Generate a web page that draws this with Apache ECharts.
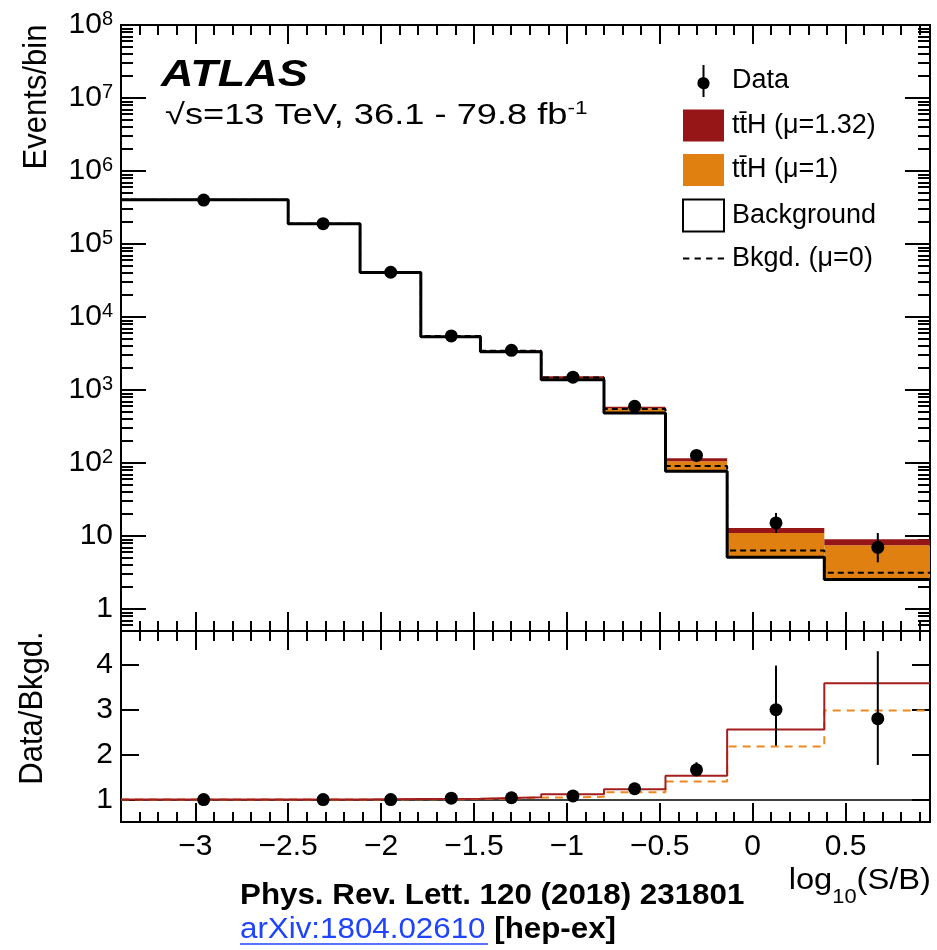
<!DOCTYPE html>
<html><head><meta charset="utf-8">
<script src="https://cdn.jsdelivr.net/npm/echarts@6/dist/echarts.min.js"></script>
<style>html,body{margin:0;padding:0;background:#fff}#c{width:937px;height:950px}</style>
</head><body><div id="c"></div>
<script>
// ---------------- data ----------------
const binEdges = [-3.4, -2.5, -2.113, -1.786, -1.465, -1.138, -0.80, -0.469, -0.137, 0.386, 0.955];
const bkgdFit   = [4.03e5, 1.89e5, 4.07e4, 5.37e3, 3.33e3, 1.38e3, 485, 76.9, 5.12, 2.53];   // Background (black)
const ttHmu1Top = [4.04e5, 1.895e5, 4.09e4, 5.42e3, 3.44e3, 1.46e3, 562, 106, 11.0, 7.47];  // Background + ttH (mu=1)
const ttHmu132Top = [4.05e5, 1.90e5, 4.11e4, 5.48e3, 3.50e3, 1.54e3, 588, 116, 12.9, 9.0];  // Background + ttH (mu=1.32)
const bkgdMu0   = [4.05e5, 1.90e5, 4.1e4, 5.5e3, 3.45e3, 1.48e3, 551, 91, 6.32, 3.13];     // Bkgd. (mu=0), dashed
const dataX     = [-2.955, -2.312, -1.948, -1.622, -1.298, -0.967, -0.635, -0.302, 0.126, 0.674];
const dataY     = [4.0e5, 1.9e5, 4.1e4, 5.5e3, 3.5e3, 1.5e3, 597, 127, 15.1, 7.0];
const dataLo    = [3.994e5, 1.896e5, 4.08e4, 5.43e3, 3.44e3, 1.46e3, 573, 116, 11.0, 4.37];
const dataHi    = [4.006e5, 1.904e5, 4.12e4, 5.57e3, 3.56e3, 1.54e3, 621, 138, 20.7, 11.0];
const ratioData = [1.0, 1.0, 1.0, 1.03, 1.04, 1.08, 1.24, 1.66, 3.0, 2.8];
const ratioLo   = [0.998, 0.998, 0.995, 1.01, 1.01, 1.05, 1.19, 1.52, 2.2, 1.77];
const ratioHi   = [1.002, 1.002, 1.005, 1.05, 1.07, 1.11, 1.29, 1.83, 3.98, 4.3];
const ratioMu132 = [1.0, 1.0, 1.01, 1.02, 1.05, 1.12, 1.23, 1.53, 2.56, 3.59];
const ratioMu1   = [1.0, 1.0, 1.005, 1.01, 1.04, 1.06, 1.16, 1.40, 2.18, 2.98];
// ---------------- axes / ticks ----------------
const xMin = -3.4, xMax = 0.955;
const xMajorTicks = [-3, -2.5, -2, -1.5, -1, -0.5, 0, 0.5];
const xMinorTicks = [];
for (let k = -34; k <= 9; k++) { const v = k / 10; if (Math.abs(v * 2 - Math.round(v * 2)) > 1e-6) xMinorTicks.push(+v.toFixed(2)); }
const yMin = 0.5, yMax = 1e8;
const logDecades = [0, 1, 2, 3, 4, 5, 6, 7, 8];
const logMinor = [];
for (let n = -1; n <= 7; n++) for (let k = 2; k <= 9; k++) { const v = k * Math.pow(10, n); if (v >= yMin && v <= yMax) logMinor.push(Math.log10(v)); }
const ratioMin = 0.5, ratioMax = 4.75;
const ratioTicks = [1, 2, 3, 4];

const FONT = '"Liberation Sans", Arial, Helvetica, sans-serif';
const RED = '#961517', ORANGE = '#e08011';
const RED_LINE = '#a41e1e', ORANGE_LINE = '#ec8a1f';

function stepData(vals) {
  const pts = vals.map((v, i) => [binEdges[i], v]);
  pts.push([binEdges[vals.length], vals[vals.length - 1]]);
  return pts;
}
function bandData(lo, hi) { return lo.map((v, i) => [binEdges[i], binEdges[i + 1], v, hi[i]]); }
function bandRender(color) {
  return function (params, api) {
    const p0 = api.coord([api.value(0), api.value(3)]);
    const p1 = api.coord([api.value(1), api.value(2)]);
    return { type: 'rect', shape: { x: p0[0], y: p0[1], width: p1[0] - p0[0], height: p1[1] - p0[1] }, style: { fill: color } };
  };
}
function errRender(params, api) {
  const a = api.coord([api.value(0), api.value(1)]);
  const b = api.coord([api.value(0), api.value(2)]);
  return { type: 'line', shape: { x1: a[0], y1: a[1], x2: b[0], y2: b[1] }, style: { stroke: '#000', lineWidth: 2 } };
}
function tickAxis(grid, pos, min, max, vals, len, label) {
  return {
    type: 'value', gridIndex: grid, position: pos, min: min, max: max,
    axisLine: { show: false, onZero: false }, splitLine: { show: false },
    axisTick: { show: true, inside: true, length: len, customValues: vals, lineStyle: { color: '#000', width: 2 } },
    axisLabel: label ? label : { show: false }
  };
}
const xLabel = {
  show: true, customValues: xMajorTicks, fontSize: 30, fontFamily: FONT, color: '#000', margin: 10,
  formatter: v => (v < 0 ? '\u2212' + String(Math.abs(v)) : String(v))
};
const yLogLabel = {
  show: true, customValues: logDecades, fontFamily: FONT, color: '#000', margin: 8, fontSize: 30,
  formatter: v => { const n = Math.round(v); if (n === 0) return '{b|1}'; if (n === 1) return '{b|10}'; return '{b|10}{s|' + n + '}'; },
  rich: { b: { fontSize: 30, lineHeight: 32, fontFamily: FONT, color: '#000' }, s: { fontSize: 20, lineHeight: 20, verticalAlign: 'top', fontFamily: FONT, color: '#000' } }
};
const yRatioLabel = { show: true, customValues: ratioTicks, fontSize: 30, fontFamily: FONT, color: '#000', margin: 8 };

const chart = echarts.init(document.getElementById('c'), null, { renderer: 'canvas', devicePixelRatio: 1 });
const dataIcon = 'path://M5.125 0H6.875V10.81A5.25 5.25 0 0 1 6.875 21.19V28H5.125V21.19A5.25 5.25 0 0 1 5.125 10.81Z';
const dashIcon = 'path://M0 0H6V2H0Z M11 0H17V2H11Z M22 0H28V2H22Z M33 0H39V2H33Z';
const option = {
  animation: false,
  backgroundColor: '#fff',
  grid: [
    { left: 121, right: 7, top: 25, height: 606, show: true, borderColor: '#000', borderWidth: 2, backgroundColor: 'transparent' },
    { left: 121, right: 7, top: 631, height: 191, show: true, borderColor: '#000', borderWidth: 2, backgroundColor: 'transparent' }
  ],
  xAxis: [
    tickAxis(0, 'bottom', xMin, xMax, xMajorTicks, 19),
    tickAxis(0, 'bottom', xMin, xMax, xMinorTicks, 10),
    tickAxis(0, 'top', xMin, xMax, xMajorTicks, 19),
    tickAxis(0, 'top', xMin, xMax, xMinorTicks, 10),
    tickAxis(1, 'bottom', xMin, xMax, xMajorTicks, 19, xLabel),
    tickAxis(1, 'bottom', xMin, xMax, xMinorTicks, 10),
    tickAxis(1, 'top', xMin, xMax, xMajorTicks, 19),
    tickAxis(1, 'top', xMin, xMax, xMinorTicks, 10)
  ],
  yAxis: [
    { type: 'log', logBase: 10, gridIndex: 0, min: yMin, max: yMax, show: false },
    tickAxis(0, 'left', Math.log10(yMin), 8, logDecades, 25, yLogLabel),
    tickAxis(0, 'left', Math.log10(yMin), 8, logMinor, 12),
    tickAxis(0, 'right', Math.log10(yMin), 8, logDecades, 25),
    tickAxis(0, 'right', Math.log10(yMin), 8, logMinor, 12),
    tickAxis(1, 'left', ratioMin, ratioMax, ratioTicks, 18, yRatioLabel),
    tickAxis(1, 'right', ratioMin, ratioMax, ratioTicks, 18)
  ],
  legend: {
    orient: 'vertical', left: 682, top: 65, itemWidth: 41, itemHeight: 32, itemGap: 12.5, padding: 0,
    selectedMode: false,
    textStyle: { fontSize: 27, fontFamily: FONT, color: '#000', padding: [0, 0, 0, 3] },
    data: [
      { name: 'Data', icon: dataIcon },
      { name: 't\u0074\u0304H (\u03bc=1.32)', icon: 'rect' },
      { name: 't\u0074\u0304H (\u03bc=1)', icon: 'rect' },
      { name: 'Background', icon: 'rect', itemStyle: { color: '#fff', borderColor: '#000', borderWidth: 2 } },
      { name: 'Bkgd. (\u03bc=0)', icon: dashIcon, itemStyle: { color: '#000' } }
    ]
  },
  series: [
    { name: 't\u0074\u0304H (\u03bc=1)', type: 'custom', xAxisIndex: 0, yAxisIndex: 0, itemStyle: { color: ORANGE },
      renderItem: bandRender(ORANGE), data: bandData(bkgdFit, ttHmu1Top), z: 2 },
    { name: 't\u0074\u0304H (\u03bc=1.32)', type: 'custom', xAxisIndex: 0, yAxisIndex: 0, itemStyle: { color: RED },
      renderItem: bandRender(RED), data: bandData(ttHmu1Top, ttHmu132Top), z: 2 },
    { name: 'Bkgd. (\u03bc=0)', type: 'line', step: 'end', xAxisIndex: 0, yAxisIndex: 0, symbol: 'none', showSymbol: false,
      lineStyle: { color: '#000', width: 2, type: [6, 4] }, itemStyle: { color: '#000' }, data: stepData(bkgdMu0), z: 3 },
    { name: 'Background', type: 'line', step: 'end', xAxisIndex: 0, yAxisIndex: 0, symbol: 'none', showSymbol: false,
      lineStyle: { color: '#000', width: 3 }, itemStyle: { color: '#000' }, data: stepData(bkgdFit), z: 4 },
    { name: 'dataErr', type: 'custom', xAxisIndex: 0, yAxisIndex: 0, renderItem: errRender,
      data: dataX.map((x, i) => [x, dataLo[i], dataHi[i]]), z: 5 },
    { name: 'Data', type: 'scatter', xAxisIndex: 0, yAxisIndex: 0, symbol: 'circle', symbolSize: 13,
      itemStyle: { color: '#000', opacity: 1 }, data: dataX.map((x, i) => [x, dataY[i]]), z: 6 },
    // ratio panel
    { name: 'ratioMu1', type: 'line', step: 'end', xAxisIndex: 4, yAxisIndex: 5, symbol: 'none',
      lineStyle: { color: ORANGE_LINE, width: 2, type: [8, 6] }, data: stepData(ratioMu1), z: 3,
      markLine: { silent: true, symbol: 'none', label: { show: false }, lineStyle: { color: '#000', width: 1.5, type: 'solid' }, data: [{ yAxis: 1 }], z: 2 } },
    { name: 'ratioMu132', type: 'line', step: 'end', xAxisIndex: 4, yAxisIndex: 5, symbol: 'none',
      lineStyle: { color: RED_LINE, width: 2 }, data: stepData(ratioMu132), z: 4 },
    { name: 'ratioErr', type: 'custom', xAxisIndex: 4, yAxisIndex: 5, renderItem: errRender,
      data: dataX.map((x, i) => [x, ratioLo[i], ratioHi[i]]), z: 5 },
    { name: 'ratioData', type: 'scatter', xAxisIndex: 4, yAxisIndex: 5, symbol: 'circle', symbolSize: 13,
      itemStyle: { color: '#000', opacity: 1 }, data: dataX.map((x, i) => [x, ratioData[i]]), z: 6 }
  ],
  graphic: [
    { type: 'text', x: 161, y: 76.3, scaleX: 1.25,
      style: { text: 'ATLAS', fontSize: 36, fontWeight: 'bold', fontStyle: 'italic', fontFamily: FONT, fill: '#000', align: 'left', verticalAlign: 'middle' } },
    { type: 'text', x: 165, y: 116, scaleX: 1.25,
      style: { text: '{a|\u221as=13 TeV, 36.1 - 79.8 fb}{s|-1}', align: 'left', verticalAlign: 'middle',
        rich: { a: { fontSize: 29, lineHeight: 31, fontFamily: FONT, fill: '#000' }, s: { fontSize: 18, lineHeight: 18, verticalAlign: 'top', fontFamily: FONT, fill: '#000' } } } },
    { type: 'text', x: 37, y: 97, rotation: Math.PI / 2, scaleY: 1.1,
      style: { text: 'Events/bin', fontSize: 31, fontFamily: FONT, fill: '#000', align: 'center', verticalAlign: 'middle' } },
    { type: 'text', x: 33, y: 708, rotation: Math.PI / 2, scaleY: 1.1,
      style: { text: 'Data/Bkgd.', fontSize: 31, fontFamily: FONT, fill: '#000', align: 'center', verticalAlign: 'middle' } },
    { type: 'text', x: 931, y: 881, scaleX: 1.09,
      style: { text: '{a|log}{b|10}{a|(S/B)}', align: 'right', verticalAlign: 'middle',
        rich: { a: { fontSize: 30, lineHeight: 52, fontFamily: FONT, fill: '#000' }, b: { fontSize: 20, lineHeight: 20, verticalAlign: 'bottom', fontFamily: FONT, fill: '#000' } } } },
    { type: 'text', x: 240, y: 895.5, scaleX: 1.08,
      style: { text: 'Phys. Rev. Lett. 120 (2018) 231801', fontSize: 29, fontWeight: 'bold', fontFamily: FONT, fill: '#000', align: 'left', verticalAlign: 'middle' } },
    { type: 'text', x: 240, y: 930, scaleX: 1.08,
      style: { text: '{l|arXiv:1804.02610}{h| [hep-ex]}', align: 'left', verticalAlign: 'middle',
        rich: { l: { fontSize: 29, fontFamily: FONT, fill: '#1f44ff' }, h: { fontSize: 29, fontWeight: 'bold', fontFamily: FONT, fill: '#000' } } } },
    { type: 'line', shape: { x1: 240, y1: 944, x2: 488, y2: 944 }, style: { stroke: '#1f44ff', lineWidth: 1.5 } }
  ]
};
chart.setOption(option);
</script></body></html>
